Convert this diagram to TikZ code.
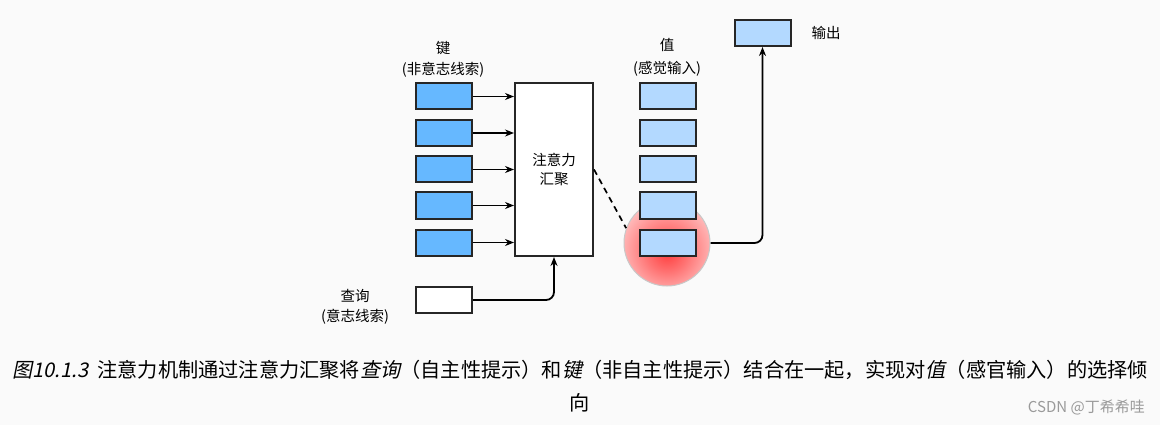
\documentclass[tikz,border=0pt]{standalone}
\usepackage{fontspec}
\newfontfamily\cjk[AutoFakeSlant=0.2]{Noto Sans CJK SC}
\usetikzlibrary{arrows.meta,calc}
\definecolor{bg}{HTML}{FAFAFA}
\definecolor{keyblue}{HTML}{66B8FF}
\definecolor{valblue}{HTML}{B3D9FF}
\definecolor{rimgray}{HTML}{C8C8C8}
\definecolor{wmgray}{HTML}{9A9A9A}
\pgfdeclareradialshading{redglow}{\pgfpoint{0bp}{-6bp}}{color(0bp)=(red!75); color(12bp)=(red!55); color(30bp)=(red!22); color(50bp)=(red!6); color(60bp)=(red!6)}
\begin{document}
\begin{tikzpicture}[x=1pt,y=-1pt,
  every node/.style={font=\cjk},
  box/.style={draw=black!85, line width=2pt, minimum width=56pt, minimum height=26pt, inner sep=0pt},
  keybox/.style={box, fill=keyblue},
  valbox/.style={box, fill=valblue},
  qbox/.style={box, fill=white},
  lab/.style={font=\cjk\fontsize{14.5}{16}\selectfont, inner sep=0pt},
  arr/.style={line width=1.8pt, -{Stealth[length=9pt,width=7pt]}},
  captext/.style={font=\cjk\fontsize{20.2}{22}\selectfont, inner sep=0pt}]
\useasboundingbox[fill=bg] (0,0) rectangle (1160,425);
% keys
\foreach \i/\y in {1/96.5,2/133,3/169.5,4/205.5,5/242.5}{
  \node[keybox] (k\i) at (443.5,\y) {};
}
\node[lab] (klab1) at (443,48) {键};
\node[lab] (klab2) at (443,70) {(非意志线索)};
% attention pooling box
\node[draw=black!85, line width=2pt, fill=white, minimum width=78pt, minimum height=173pt, inner sep=0pt] (att) at (554,169.5) {};
\node[lab, align=center] (attlab) at (554,169) {注意力\\[3pt]汇聚};
\foreach \i in {1,...,5}{
  \draw[arr] (k\i.east) -- (k\i.east -| att.west);
}
% query
\node[qbox] (q) at (444,300) {};
\node[lab] (qlab1) at (355,296) {查询};
\node[lab] (qlab2) at (355,317) {(意志线索)};
\draw[arr, rounded corners=8pt] (q.east) -| (att.south);
% glow
\node[circle, minimum size=86pt, inner sep=0pt, draw=rimgray, line width=1pt, shading=redglow] (glow) at (667,243) {};
% values
\foreach \i/\y in {1/96.5,2/133,3/169.5,4/205.5,5/242.5}{
  \node[valbox] (v\i) at (667.5,\y) {};
}
\node[lab] (vlab1) at (667,45) {值};
\node[lab] (vlab2) at (667,69) {(感觉输入)};
\draw[line width=1.7pt, dash pattern=on 6pt off 4.5pt] (att.east) -- (glow.160);
% output
\node[valbox] (out) at (762.5,33) {};
\node[lab] (olab) at (826,33) {输出};
\draw[arr, rounded corners=8pt] (glow.east) -| (out.south);
% caption
\node[captext] (cap1) at (580,370) {\itshape 图10.1.3\upshape\hspace{0.45em}注意力机制通过注意力汇聚将\itshape 查询\upshape（自主性提示）和\itshape 键\upshape（非自主性提示）结合在一起，实现对\itshape 值\upshape（感官输入）的选择倾};
\node[captext] (cap2) at (580,403) {向};
\node[font=\cjk\fontsize{15}{17}\selectfont, text=wmgray, inner sep=0pt, anchor=east] (wm) at (1145,407) {CSDN @丁希希哇};
\end{tikzpicture}
\end{document}
